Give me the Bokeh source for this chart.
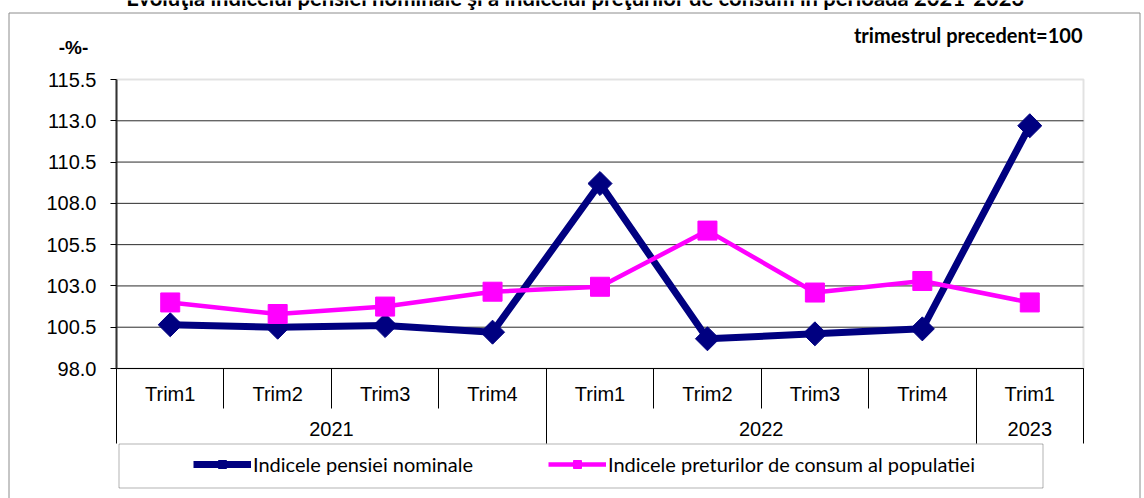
import numpy as np
from bokeh.plotting import figure
from bokeh.models import (Range1d, LinearAxis, FixedTicker, Legend, LegendItem,
                          BoxAnnotation, Label, PrintfTickFormatter, ColumnDataSource)
from bokeh.embed import file_html
from bokeh.resources import INLINE

# ---------------- data ----------------
years = ["2021", "2022", "2023"]
quarters_per_year = [["Trim1", "Trim2", "Trim3", "Trim4"],
                     ["Trim1", "Trim2", "Trim3", "Trim4"],
                     ["Trim1"]]
pension = [100.65, 100.5, 100.6, 100.2, 109.2, 99.8, 100.1, 100.4, 112.7]
cpi = [102.0, 101.3, 101.75, 102.65, 102.95, 106.35, 102.6, 103.3, 102.0]
y_ticks = [98.0, 100.5, 103.0, 105.5, 108.0, 110.5, 113.0, 115.5]
series_names = ["Indicele pensiei nominale", "Indicele preturilor de consum al populatiei"]
title_text = "Evoluţia indicelui pensiei nominale şi a indicelui preţurilor de consum în perioada 2021-2023"
unit_text = "-%-"
base_text = "trimestrul precedent=100"

quarters = [q for qs in quarters_per_year for q in qs]
n = len(quarters)
centers = [2 * i + 1 for i in range(n)]          # category centres (2 units per category)
bounds = [2 * i for i in range(n + 1)]           # category boundaries
sizes = [len(q) for q in quarters_per_year]
edges = [int(v) for v in np.cumsum([0] + sizes) * 2]
ycent = [(a + b) // 2 for a, b in zip(edges[:-1], edges[1:])]

# ---------------- layout constants (pixels) ----------------
W, H = 1144, 498
PL, PR, PT, PB = 116, 1083, 79, 368               # plot area
ymin, ymax = y_ticks[0], y_ticks[-1]
k = (ymax - ymin) / (PB - PT)
u = (2 * n) / (PR - PL)

p = figure(width=W, height=H, title=None,
           x_range=Range1d(0, W), y_range=Range1d(H, 0),
           output_backend="svg", toolbar_location=None,
           x_axis_location=None, y_axis_location=None,
           min_border_left=0, min_border_right=0, min_border_top=0, min_border_bottom=0)
p.background_fill_color = "white"
p.border_fill_color = "white"
p.outline_line_color = None
for g in p.grid:
    g.visible = False

p.extra_x_ranges = {"idx": Range1d(-PL * u, 2 * n + (W - PR) * u)}
p.extra_y_ranges = {"val": Range1d(ymin - (H - PB) * k, ymax + PT * k)}

# outer frame of the chart (decoration)
p.line([8.5, 8.5, 1139.5, 1139.5], [510, 12.5, 12.5, 510], line_color="#8c8c8c", line_width=1)

# plot area border
p.add_layout(BoxAnnotation(left=0, right=2 * n, bottom=ymin, top=ymax,
                           x_range_name="idx", y_range_name="val",
                           fill_alpha=0, line_color="#a0a0a0", line_width=2, level="underlay"))
# horizontal gridlines
inner = y_ticks[1:-1]
p.segment(x0=[0] * len(inner), x1=[2 * n] * len(inner), y0=inner, y1=inner,
          x_range_name="idx", y_range_name="val", line_color="#2b2b2b", line_width=1)

# y axis
yax = LinearAxis(y_range_name="val", fixed_location=PL, bounds=(ymin, ymax),
                 ticker=FixedTicker(ticks=y_ticks), formatter=PrintfTickFormatter(format="%.1f"),
                 major_tick_out=6, major_tick_in=0, major_tick_line_color="black",
                 minor_tick_line_color=None, axis_line_color="#333333", axis_line_width=2,
                 major_label_standoff=14, major_label_text_font="Liberation Sans",
                 major_label_text_font_size="20px", major_label_text_color="black")
p.add_layout(yax, "left")

# x axis, quarter row
ax1 = LinearAxis(x_range_name="idx", fixed_location=PB, bounds=(0, 2 * n),
                 ticker=FixedTicker(ticks=centers, minor_ticks=bounds),
                 major_label_overrides={int(c): q for c, q in zip(centers, quarters)},
                 major_tick_line_color=None, major_tick_out=0, major_tick_in=0,
                 minor_tick_out=40, minor_tick_in=0, minor_tick_line_color="black",
                 axis_line_color="black", axis_line_width=1, major_label_standoff=-26,
                 major_label_text_font="Liberation Sans", major_label_text_font_size="20px",
                 major_label_text_color="black")
# x axis, year row
ax2 = LinearAxis(x_range_name="idx", fixed_location=PB, bounds=(0, 2 * n),
                 ticker=FixedTicker(ticks=ycent, minor_ticks=edges),
                 major_label_overrides={int(c): yv for c, yv in zip(ycent, years)},
                 major_tick_line_color=None, major_tick_out=0, major_tick_in=0,
                 minor_tick_out=75, minor_tick_in=0, minor_tick_line_color="black",
                 axis_line_color=None, major_label_standoff=-22,
                 major_label_text_font="Liberation Sans", major_label_text_font_size="20px",
                 major_label_text_color="black")
p.add_layout(ax1, "below")
p.add_layout(ax2, "below")

# ---------------- series ----------------
src = ColumnDataSource(dict(x=centers, pension=pension, cpi=cpi))
kw = dict(source=src, x_range_name="idx", y_range_name="val")
r1 = p.line("x", "pension", line_color="#000080", line_width=7, **kw)
r1m = p.scatter("x", "pension", marker="square", angle=np.pi / 4, size=17, color="#000080", **kw)
r2 = p.line("x", "cpi", line_color="#FF00FF", line_width=4.5, **kw)
r2m = p.scatter("x", "cpi", marker="square", size=19, color="#FF00FF", **kw)

# ---------------- legend ----------------
p.add_layout(BoxAnnotation(left=118.5, right=1042.5, top=443.5, bottom=487.5,
                           fill_alpha=0, line_color="black", line_width=1))
legend = Legend(items=[LegendItem(label=series_names[0], renderers=[r1, r1m]),
                       LegendItem(label=series_names[1], renderers=[r2, r2m])],
                location=(193, 22), orientation="horizontal", spacing=0, padding=0, margin=0,
                glyph_width=58, glyph_height=20, label_standoff=2, label_width=295,
                label_text_font="Lato", label_text_font_size="20px", label_text_color="black",
                border_line_color=None, background_fill_alpha=0)
p.add_layout(legend)

# ---------------- texts ----------------
p.add_layout(Label(x=73, y=47, text=unit_text, text_align="center", text_baseline="middle",
                   text_font="Liberation Sans", text_font_style="bold", text_font_size="19px",
                   text_color="black"))
p.add_layout(Label(x=1082, y=34, text=base_text, text_align="right", text_baseline="middle",
                   text_font="Lato", text_font_style="bold", text_font_size="20px",
                   text_color="black"))
p.add_layout(Label(x=575, y=-3, text=title_text, text_align="center", text_baseline="middle",
                   text_font="Lato", text_font_style="bold", text_font_size="22px",
                   text_color="black"))

open("out.html", "w").write(file_html(p, INLINE))
